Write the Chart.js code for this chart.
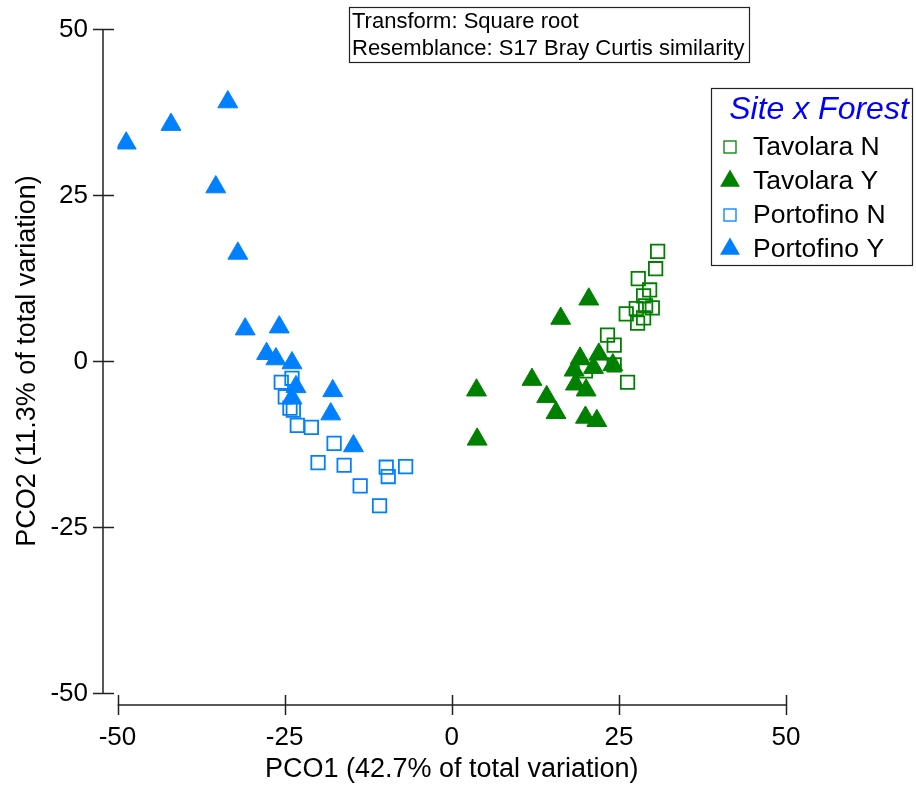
<!DOCTYPE html>
<html>
<head>
<meta charset="utf-8">
<script src="https://cdn.jsdelivr.net/npm/chart.js@4.4.1/dist/chart.umd.min.js"></script>
<style>
  body { margin: 0; background: #fff; }
  #wrap { width: 916px; height: 787px; position: relative; }
</style>
</head>
<body>
<div id="wrap"><canvas id="pco"></canvas></div>
<script>
// values (PCO1, PCO2)
const tavolaraN = [
  [30.8, 16.5], [30.5, 13.9], [27.9, 12.4], [29.6, 10.7], [28.7, 9.8],
  [26.1, 7.1], [27.6, 7.9], [30.0, 8.0], [29.0, 8.3], [28.7, 6.5],
  [27.8, 5.7], [23.3, 3.9], [24.3, 2.4], [24.3, -0.6], [20.0, -1.5],
  [26.3, -3.2]
];
const tavolaraY = [
  [20.5, 9.3], [16.3, 6.4], [3.7, -4.4], [3.8, -11.8], [12.0, -2.8],
  [14.2, -5.4], [15.6, -7.8], [19.2, 0.4], [22.0, 1.0], [18.3, -1.4],
  [21.2, -1.0], [24.1, -0.6], [18.5, -3.5], [20.1, -4.4], [20.0, -8.5],
  [21.7, -9.0]
];
const portofinoN = [
  [-23.9, -2.6], [-25.5, -3.2], [-24.9, -5.4], [-24.2, -7.1], [-23.7, -7.4],
  [-23.1, -9.7], [-21.0, -10.0], [-17.6, -12.4], [-20.0, -15.3], [-16.1, -15.7],
  [-9.8, -16.0], [-9.5, -17.4], [-6.9, -15.9], [-13.7, -18.8], [-10.8, -21.8]
];
const portofinoY = [
  [-48.7, 32.8], [-42.0, 35.6], [-33.5, 39.0], [-35.3, 26.2], [-32.0, 16.2],
  [-30.9, 4.8], [-25.8, 5.1], [-27.7, 1.1], [-26.3, 0.3], [-23.9, -0.3],
  [-23.3, -3.9], [-23.9, -5.6], [-17.8, -4.5], [-18.1, -8.0], [-14.7, -12.8]
];

const groupNames = ["Tavolara N", "Tavolara Y", "Portofino N", "Portofino Y"];
const xTicks = [-50, -25, 0, 25, 50];
const yTicks = [-50, -25, 0, 25, 50];
const xTitle = "PCO1 (42.7% of total variation)";
const yTitle = "PCO2 (11.3% of total variation)";
const noteLines = ["Transform: Square root", "Resemblance: S17 Bray Curtis similarity"];
const legendTitle = "Site x Forest";

const GREEN = "rgb(0,128,0)";
const BLUE = "rgb(0,128,255)";
const FONT = '"Liberation Sans", Arial, sans-serif';

function toPoints(arr) {
  return arr.map(p => ({ x: p[0], y: p[1] }));
}

function squareSet(label, pts, color) {
  return {
    label, data: toPoints(pts), pointStyle: "rect",
    pointRadius: 9.5, pointHoverRadius: 9.5, borderWidth: 1.8,
    borderColor: color, backgroundColor: "rgba(0,0,0,0)", order: 2
  };
}

function triangleSet(label, pts, color) {
  return {
    label, data: toPoints(pts), pointStyle: "triangle",
    pointRadius: 11.5, pointHoverRadius: 11.5, borderWidth: 1,
    borderColor: color, backgroundColor: color, order: 1
  };
}

// axes, note box and legend drawn by hand in the PRIMER style
const decorations = {
  id: "decorations",
  afterDraw(chart) {
    const ctx = chart.ctx;
    const xs = chart.scales.x, ys = chart.scales.y;
    const area = chart.chartArea;
    const axisX = area.left - 14.5;
    const axisY = area.bottom + 12;

    ctx.save();
    ctx.strokeStyle = "#222";
    ctx.lineWidth = 1.5;
    ctx.beginPath();
    ctx.moveTo(axisX, ys.getPixelForValue(50));
    ctx.lineTo(axisX, ys.getPixelForValue(-50));
    ctx.moveTo(xs.getPixelForValue(-50), axisY);
    ctx.lineTo(xs.getPixelForValue(50), axisY);
    yTicks.forEach(v => {
      const py = Math.round(ys.getPixelForValue(v)) + 0.5;
      ctx.moveTo(axisX - 10, py);
      ctx.lineTo(axisX + 11, py);
    });
    xTicks.forEach(v => {
      const px = Math.round(xs.getPixelForValue(v)) + 0.5;
      ctx.moveTo(px, axisY - 10);
      ctx.lineTo(px, axisY + 10);
    });
    ctx.stroke();

    ctx.fillStyle = "#000";
    ctx.font = "26px " + FONT;
    ctx.textAlign = "right";
    ctx.textBaseline = "middle";
    yTicks.forEach(v => ctx.fillText(String(v), axisX - 15, ys.getPixelForValue(v) + 1));
    ctx.textAlign = "center";
    xTicks.forEach(v => ctx.fillText(String(v), xs.getPixelForValue(v), 738));

    ctx.font = "27px " + FONT;
    ctx.fillText(xTitle, (area.left + area.right) / 2, 770);
    ctx.save();
    ctx.translate(28, (area.top + area.bottom) / 2);
    ctx.rotate(-Math.PI / 2);
    ctx.fillText(yTitle, 0, 0);
    ctx.restore();

    // note box
    ctx.lineWidth = 1.2;
    ctx.strokeStyle = "#222";
    ctx.strokeRect(349.5, 7.5, 400, 55);
    ctx.font = "22px " + FONT;
    ctx.textAlign = "left";
    ctx.textBaseline = "alphabetic";
    ctx.fillText(noteLines[0], 352, 28);
    ctx.fillText(noteLines[1], 352, 55);

    // legend
    ctx.strokeRect(711.5, 88.5, 201, 177);
    ctx.font = "italic 32px " + FONT;
    ctx.fillStyle = "rgb(0,0,255)";
    ctx.textAlign = "center";
    ctx.fillText(legendTitle, 819, 119);
    const rowY = [147, 181, 215, 249];
    ctx.font = "26.5px " + FONT;
    ctx.textAlign = "left";
    ctx.textBaseline = "middle";
    chart.data.datasets.forEach((ds, i) => {
      const cy = rowY[i], cx = 730;
      if (ds.pointStyle === "rect") {
        ctx.strokeStyle = ds.borderColor;
        ctx.lineWidth = 1.3;
        ctx.strokeRect(cx - 6, cy - 6, 12, 12);
      } else {
        const r = 11.5;
        ctx.fillStyle = ds.backgroundColor;
        ctx.beginPath();
        ctx.moveTo(cx, cy - r);
        ctx.lineTo(cx + r * Math.sin(2 * Math.PI / 3), cy + r / 2);
        ctx.lineTo(cx - r * Math.sin(2 * Math.PI / 3), cy + r / 2);
        ctx.closePath();
        ctx.fill();
      }
      ctx.fillStyle = "#000";
      ctx.fillText(ds.label, 753, cy + 1);
    });
    ctx.restore();
  }
};

new Chart(document.getElementById("pco"), {
  type: "scatter",
  data: {
    datasets: [
      squareSet(groupNames[0], tavolaraN, GREEN),
      triangleSet(groupNames[1], tavolaraY, GREEN),
      squareSet(groupNames[2], portofinoN, BLUE),
      triangleSet(groupNames[3], portofinoY, BLUE)
    ]
  },
  options: {
    responsive: true,
    maintainAspectRatio: false,
    animation: false,
    layout: { padding: { left: 117.5, right: 130, top: 29, bottom: 94 } },
    plugins: { legend: { display: false }, tooltip: { enabled: false } },
    scales: {
      x: { type: "linear", min: -50, max: 50, display: false },
      y: { type: "linear", min: -50, max: 50, display: false }
    }
  },
  plugins: [decorations]
});
</script>
</body>
</html>
